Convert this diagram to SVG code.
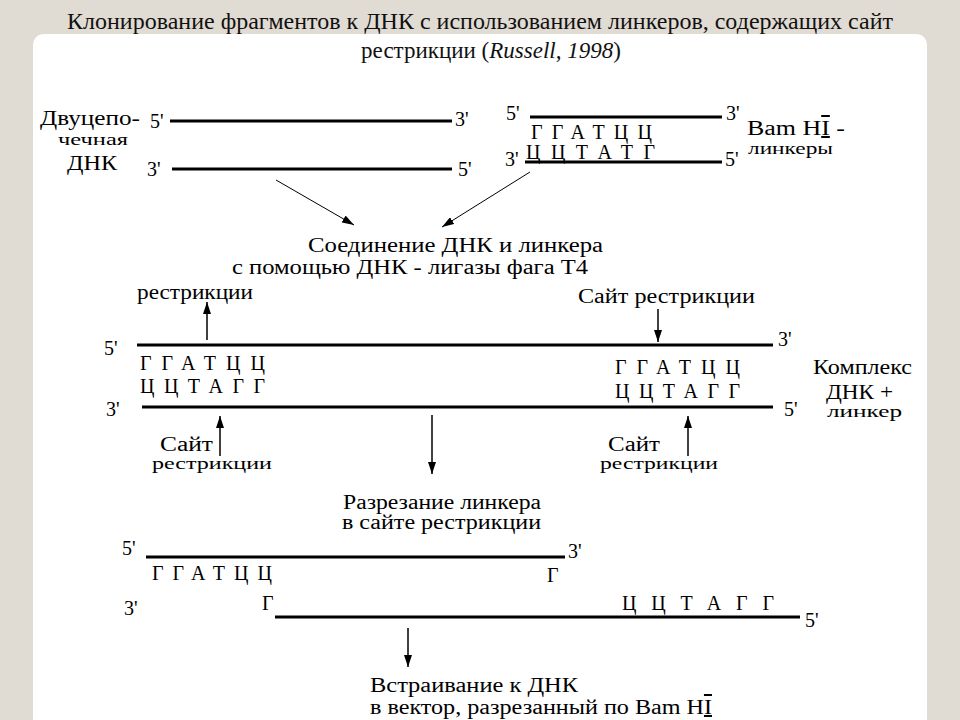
<svg xmlns="http://www.w3.org/2000/svg" width="960" height="720" viewBox="0 0 960 720" font-family="Liberation Serif, Times New Roman, serif">
<defs>
<style>
.t{font-size:20px;fill:#000}
.m{font-size:17px;fill:#000}
.q{font-size:20px;fill:#000}
.ttl{font-size:23px;fill:#111}
.dna{stroke:#000;stroke-width:3;fill:none}
.arr{stroke:#000;stroke-width:1.5;fill:none}
.thin{stroke:#000;stroke-width:1;fill:none}
.rn{text-decoration:underline overline}
</style>
<marker id="ah" viewBox="0 0 12 8" refX="12" refY="4" markerWidth="12" markerHeight="8" markerUnits="userSpaceOnUse" orient="auto">
<path d="M0,0 L12,4 L0,8 Z" fill="#000"/>
</marker>
</defs>
<rect x="0" y="0" width="960" height="720" fill="#e1dcd3"/>
<rect x="33" y="34" width="894" height="720" rx="11" fill="#ffffff"/>
<g id="title">
<text class="ttl" x="480" y="29" text-anchor="middle" textLength="826" lengthAdjust="spacingAndGlyphs">Клонирование фрагментов к ДНК с использованием линкеров, содержащих сайт</text>
<text class="ttl" x="491" y="58" text-anchor="middle" font-size="21.5">рестрикции (<tspan font-style="italic">Russell, 1998</tspan>)</text>
</g>
<g id="connectors">
<line class="thin" x1="276" y1="180" x2="354" y2="225" marker-end="url(#ah)"/>
<line class="thin" x1="530" y1="172" x2="442" y2="227" marker-end="url(#ah)"/>
<line class="arr" x1="207" y1="340" x2="207" y2="302" marker-end="url(#ah)"/>
<line class="arr" x1="658" y1="309" x2="658" y2="342" marker-end="url(#ah)"/>
<line class="arr" x1="220" y1="456" x2="220" y2="416" marker-end="url(#ah)"/>
<line class="arr" x1="688" y1="456" x2="688" y2="416" marker-end="url(#ah)"/>
<line class="arr" x1="432" y1="415" x2="432" y2="474" marker-end="url(#ah)"/>
<line class="arr" x1="408" y1="628" x2="408" y2="667" marker-end="url(#ah)"/>
</g>
<g id="dsDNA">
<text class="t" x="40" y="125" textLength="100" lengthAdjust="spacingAndGlyphs">Двуцепо-</text>
<text class="m" x="58" y="145" textLength="70" lengthAdjust="spacingAndGlyphs">чечная</text>
<text class="t" x="67" y="170" textLength="50" lengthAdjust="spacingAndGlyphs">ДНК</text>
<text class="q" x="150" y="128">5'</text>
<line class="dna" x1="170" y1="121" x2="452" y2="121"/>
<text class="q" x="455" y="126">3'</text>
<text class="q" x="147" y="176">3'</text>
<line class="dna" x1="172" y1="169" x2="452" y2="169"/>
<text class="q" x="458" y="176">5'</text>
</g>
<g id="linker">
<text class="q" x="506" y="120">5'</text>
<line class="dna" x1="530" y1="117" x2="722" y2="117"/>
<text class="q" x="726" y="120">3'</text>
<text class="t" x="531" y="139" textLength="121" lengthAdjust="spacing">ГГАТЦЦ</text>
<text class="q" x="505" y="166">3'</text>
<text class="t" x="526" y="159" textLength="129" lengthAdjust="spacing">ЦЦТАТГ</text>
<line class="dna" x1="525" y1="162" x2="722" y2="162"/>
<text class="q" x="725" y="166">5'</text>
<text class="t" x="747" y="135" textLength="98" lengthAdjust="spacingAndGlyphs">Bam H<tspan class="rn">I</tspan> -</text>
<text class="m" x="748" y="154" textLength="85" lengthAdjust="spacingAndGlyphs">линкеры</text>
</g>
<g id="ligation">
<text class="t" x="308" y="252" textLength="295" lengthAdjust="spacingAndGlyphs">Соединение ДНК  и линкера</text>
<text class="t" x="232" y="274" textLength="356" lengthAdjust="spacingAndGlyphs">с помощью ДНК - лигазы  фага  Т4</text>
</g>
<g id="site-labels-top">
<text class="t" x="137" y="299" textLength="116" lengthAdjust="spacingAndGlyphs">рестрикции</text>
<text class="t" x="578" y="303" textLength="177" lengthAdjust="spacingAndGlyphs">Сайт рестрикции</text>
</g>
<g id="complex">
<text class="q" x="104" y="355">5'</text>
<line class="dna" x1="137" y1="345" x2="773" y2="345"/>
<text class="q" x="778" y="346">3'</text>
<text class="t" x="140" y="370" textLength="125" lengthAdjust="spacing">ГГАТЦЦ</text>
<text class="t" x="140" y="393" textLength="125" lengthAdjust="spacing">ЦЦТАГГ</text>
<text class="t" x="615" y="374" textLength="125" lengthAdjust="spacing">ГГАТЦЦ</text>
<text class="t" x="615" y="398" textLength="125" lengthAdjust="spacing">ЦЦТАГГ</text>
<text class="q" x="106" y="416">3'</text>
<line class="dna" x1="142" y1="407" x2="773" y2="407"/>
<text class="q" x="784" y="416">5'</text>
<text class="t" x="813" y="374" textLength="99" lengthAdjust="spacingAndGlyphs">Комплекс</text>
<text class="t" x="826" y="399" textLength="67" lengthAdjust="spacingAndGlyphs">ДНК +</text>
<text class="m" x="827" y="417" textLength="75" lengthAdjust="spacingAndGlyphs">линкер</text>
</g>
<g id="site-labels-bottom">
<text class="t" x="160" y="451" textLength="53" lengthAdjust="spacingAndGlyphs">Сайт</text>
<text class="m" x="152" y="469" textLength="120" lengthAdjust="spacingAndGlyphs">рестрикции</text>
<text class="t" x="608" y="451" textLength="52" lengthAdjust="spacingAndGlyphs">Сайт</text>
<text class="m" x="600" y="469" textLength="118" lengthAdjust="spacingAndGlyphs">рестрикции</text>
</g>
<g id="cutting">
<text class="t" x="343" y="509" textLength="198" lengthAdjust="spacingAndGlyphs">Разрезание линкера</text>
<text class="t" x="342" y="529" textLength="199" lengthAdjust="spacingAndGlyphs">в сайте рестрикции</text>
</g>
<g id="cut-product">
<text class="q" x="122" y="555">5'</text>
<line class="dna" x1="146" y1="557" x2="565" y2="557"/>
<text class="q" x="568" y="558">3'</text>
<text class="t" x="152" y="580" textLength="120" lengthAdjust="spacing">ГГАТЦЦ</text>
<text class="t" x="547" y="582">Г</text>
<text class="q" x="124" y="615">3'</text>
<text class="t" x="262" y="610">Г</text>
<text class="t" x="622" y="610" textLength="152" lengthAdjust="spacing">ЦЦТАГГ</text>
<line class="dna" x1="275" y1="617" x2="800" y2="617"/>
<text class="q" x="805" y="627">5'</text>
</g>
<g id="insertion">
<text class="t" x="370" y="692" textLength="208" lengthAdjust="spacingAndGlyphs">Встраивание к ДНК</text>
<text class="t" x="370" y="714" textLength="342" lengthAdjust="spacingAndGlyphs">в вектор, разрезанный по Bam  H<tspan class="rn">I</tspan></text>
</g>
</svg>
